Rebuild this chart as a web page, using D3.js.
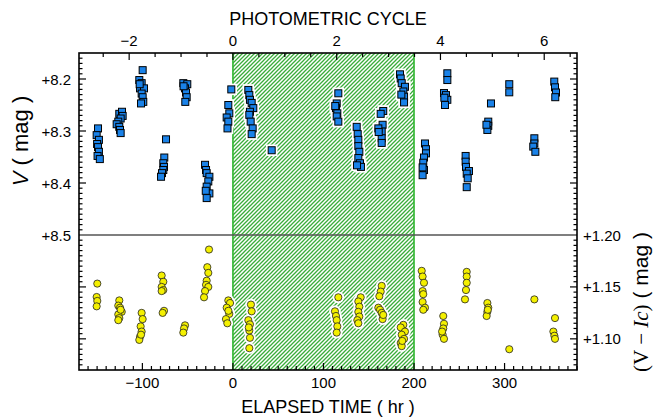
<!DOCTYPE html>
<html><head><meta charset="utf-8">
<script src="https://cdn.jsdelivr.net/npm/d3@7"></script>
<style>
html,body{margin:0;padding:0;background:#fff;}
svg text{font-family:"Liberation Sans",Arial,sans-serif;fill:#000;}
</style></head>
<body>
<svg id="chart" width="658" height="419"></svg>
<script>
// ---- data (elapsed time in hr, magnitudes) ----
const vTime = [-149,-150.5,-148,-150,-149,-148,-149.5,-147,
 -125.5,-122.5,-121.8,-124,-126.6,-128.4,-125.5,-124.7,-124,
 -99.7,-103.4,-100.8,-102.6,-98.2,-100.8,-99.7,-99,-101.5,-103,
 -73.9,-75.8,-76.9,-76.1,-76.9,-78.3,-79.4,
 -54.8,-50.4,-52.9,-51.8,-51.1,-52.6,-54.5,
 -30.8,-29.7,-29,-26,-27.2,-29,-26,-29,-30,
 -1.8,-5.1,-4,-6.9,-5.1,-6,
 17,18.1,18.8,20.7,22.5,18.8,18.1,19.6,21.8,20.7,
 42.8,
 116.4,114.6,113.8,115.3,114.6,116.4,113,
 136.7,137.8,138.5,138.5,139.6,138.5,140.3,141.4,137,
 166,163.2,165.3,164.3,160.6,164.3,164.3,161,
 184.5,185.3,186.4,190,188.2,189,189,186,
 212.1,213.2,213.2,211,210.2,211,209.5,209.5,
 236.8,236.8,233.1,235.3,236.8,234.2,233.5,
 285,
 282,282,281,280,
 305.2,305.2,
 257,257,257.4,260.7,258.2,259.3,258.2,
 332.9,332.9,331.7,334,
 354.9,355.7,356.8,356];
const vMag = [8.295,8.308,8.317,8.325,8.331,8.340,8.348,8.354,
 8.267,8.263,8.271,8.276,8.282,8.287,8.292,8.298,8.304,
 8.183,8.202,8.208,8.218,8.218,8.228,8.235,8.244,8.247,8.210,
 8.316,8.351,8.362,8.369,8.375,8.381,8.388,
 8.208,8.210,8.218,8.226,8.235,8.244,8.214,
 8.365,8.375,8.381,8.388,8.397,8.407,8.420,8.429,8.415,
 8.220,8.250,8.266,8.274,8.282,8.295,
 8.221,8.231,8.240,8.246,8.256,8.263,8.269,8.282,8.295,8.306,
 8.337,
 8.2275,8.247,8.256,8.266,8.272,8.282,8.252,
 8.292,8.306,8.317,8.329,8.340,8.352,8.362,8.369,8.366,
 8.2615,8.267,8.288,8.301,8.295,8.314,8.323,8.302,
 8.191,8.199,8.208,8.215,8.224,8.234,8.245,8.230,
 8.324,8.335,8.343,8.351,8.361,8.375,8.385,8.370,
 8.189,8.202,8.227,8.231,8.240,8.250,8.236,
 8.247,
 8.282,8.290,8.298,8.288,
 8.210,8.2256,
 8.348,8.359,8.369,8.377,8.382,8.391,8.408,
 8.314,8.324,8.330,8.340,
 8.205,8.216,8.226,8.235];

const ciTime = [-149.8,-150.5,-149.8,-150.5,
 -125.5,-126.6,-124.7,-122.8,-126.6,-125.5,-126.6,-124,
 -100.8,-99.7,-101.9,-100.8,-102.6,-103.4,-101.5,
 -78.7,-76.9,-78.7,-76.9,-78.7,-76.1,-77.6,
 -52.9,-54,-54.8,
 -26.4,-28.3,-27.2,-29,-29.7,-27.2,-30.8,-31.9,
 -5.1,-3.2,-6.9,-4,-7.7,-6.2,-5,
 19.9,20.7,17,18.8,18.1,18.8,18.1,17.5,
 116.4,112.7,113.8,114.6,115.3,114.6,
 141.1,138.5,139.6,138.5,139.6,137.4,138.5,
 164.3,163.2,161.7,160.6,162.5,164.3,165.3,166,
 188.2,185.3,190,186.4,189,185.3,186.4,187,
 208.5,209.5,211,209.5,210.2,209.5,212.1,210.2,
 232.3,233.1,232.3,231.6,233.1,231,
 258.2,258.2,258.2,257.4,256.3,
 281,282,281,280.2,281.5,
 305.2,332.9,
 355.7,353.9,355,355.7];
const ciMag = [1.1532,1.1403,1.1365,1.1313,
 1.137,1.132,1.130,1.126,1.1235,1.120,1.118,1.128,
 1.125,1.119,1.112,1.107,1.102,1.099,1.104,
 1.161,1.155,1.150,1.147,1.146,1.127,1.125,
 1.113,1.110,1.106,
 1.186,1.169,1.1635,1.156,1.152,1.150,1.146,1.140,
 1.137,1.1345,1.130,1.124,1.119,1.115,1.127,
 1.133,1.1265,1.118,1.114,1.108,1.101,1.091,1.111,
 1.140,1.1265,1.122,1.118,1.112,1.106,
 1.140,1.136,1.131,1.126,1.1215,1.118,1.115,
 1.151,1.1455,1.141,1.130,1.128,1.125,1.119,1.123,
 1.1135,1.111,1.107,1.104,1.100,1.096,1.093,1.098,
 1.1655,1.160,1.154,1.146,1.143,1.1355,1.130,1.128,
 1.122,1.1145,1.110,1.104,1.100,1.107,
 1.1645,1.160,1.154,1.147,1.138,
 1.1345,1.130,1.126,1.122,1.128,
 1.090,1.138,
 1.120,1.107,1.103,1.100];

const timeTicks = [-100, 0, 100, 200, 300];
const cycleTicks = [-2, 0, 2, 4, 6];
const vTicks = [8.2, 8.3, 8.4, 8.5];
const ciTicks = [1.20, 1.15, 1.10];
const period = 57.3;          // hr per photometric cycle
const shade = [0, 200];       // shaded interval, hr

// ---- layout ----
const L = 79, R = 577, T = 53, B = 370, MID = 235;
const svg = d3.select("#chart");
const x = d3.scaleLinear().domain([-170, 380]).range([L, R]);
const xc = d3.scaleLinear().domain([-170/period, 380/period]).range([L, R]);
const yV = d3.scaleLinear().domain([8.15, 8.5]).range([T, MID]);
const yC = d3.scaleLinear().domain([1.20, 1.07]).range([MID, B]);

// hatch pattern
const defs = svg.append("defs");
const pat = defs.append("pattern").attr("id","hatch").attr("patternUnits","userSpaceOnUse")
  .attr("width",4).attr("height",4);
pat.append("rect").attr("width",4).attr("height",4).attr("fill","#fff");
pat.append("path").attr("d","M-1,1 l2,-2 M0,4 l4,-4 M3,5 l2,-2")
  .attr("stroke","#3aac3a").attr("stroke-width",1.3);

svg.append("rect").attr("x",x(shade[0])).attr("y",T).attr("width",x(shade[1])-x(shade[0]))
  .attr("height",B-T).attr("fill","url(#hatch)");
shade.forEach(s => svg.append("line").attr("x1",x(s)).attr("x2",x(s)).attr("y1",T).attr("y2",B)
  .attr("stroke","#2fb52f").attr("stroke-width",1.6));

// divider line
svg.append("line").attr("x1",L).attr("x2",R).attr("y1",MID).attr("y2",MID)
  .attr("stroke","#555").attr("stroke-width",1.5);

// ---- points ----
const vPts = vTime.map((t,i)=>({t, m:vMag[i]}));
const cPts = ciTime.map((t,i)=>({t, m:ciMag[i]}));
const S = 7;
const g = svg.append("g");
g.selectAll("rect.vh").data(vPts).join("rect")
  .attr("x",d=>x(d.t)-S/2).attr("y",d=>yV(d.m)-S/2).attr("width",S).attr("height",S)
  .attr("fill","#fff").attr("stroke","#fff").attr("stroke-width",4.5);
g.selectAll("circle.ch").data(cPts).join("circle")
  .attr("cx",d=>x(d.t)).attr("cy",d=>yC(d.m)).attr("r",3.6)
  .attr("fill","#fff").attr("stroke","#fff").attr("stroke-width",4.5);
g.selectAll("rect.v").data(vPts).join("rect")
  .attr("x",d=>x(d.t)-S/2).attr("y",d=>yV(d.m)-S/2).attr("width",S).attr("height",S)
  .attr("fill","#1a82e8").attr("stroke","#000").attr("stroke-width",1);
g.selectAll("circle.c").data(cPts).join("circle")
  .attr("cx",d=>x(d.t)).attr("cy",d=>yC(d.m)).attr("r",3.6)
  .attr("fill","#f4f000").attr("stroke","#222").attr("stroke-width",0.8);

// ---- axes ----
const ax = svg.append("g").attr("stroke","#000").attr("stroke-width",1.2);
function tick(x1,y1,x2,y2){ax.append("line").attr("x1",x1).attr("y1",y1).attr("x2",x2).attr("y2",y2);}
// bottom: minor 10 hr, major 100 hr
d3.range(-160, 381, 10).forEach(t=>{
  const len = (t % 100 === 0) ? 7 : 4;
  tick(x(t), B, x(t), B-len);
});
// top: cycles, minor 0.5, major 2
d3.range(-2.5, 6.6, 0.5).forEach(c=>{
  if (xc(c) < L || xc(c) > R) return;
  const len = (Math.abs(c % 2) < 1e-9) ? 7 : 4;
  tick(xc(c), T, xc(c), T+len);
});
// left/right upper: V minor 0.01, major 0.1
d3.range(8.16, 8.5, 0.01).forEach(v=>{
  const major = Math.abs(v*10 - Math.round(v*10)) < 1e-6;
  const len = major ? 7 : 3.5;
  tick(L, yV(v), L+len, yV(v));
  tick(R, yV(v), R-len, yV(v));
});
// lower: V-Ic minor 0.005, major 0.05
d3.range(1.075, 1.2, 0.005).forEach(c=>{
  const major = Math.abs(c*20 - Math.round(c*20)) < 1e-6;
  const len = major ? 7 : 3.5;
  tick(L, yC(c), L+len, yC(c));
  tick(R, yC(c), R-len, yC(c));
});
// frame
svg.append("rect").attr("x",L).attr("y",T).attr("width",R-L).attr("height",B-T)
  .attr("fill","none").attr("stroke","#000").attr("stroke-width",1.6);

// tick labels
const fmtSigned = (v,d)=> (v<0? "\u2212" : "") + Math.abs(v).toFixed(d);
svg.selectAll("text.xb").data(timeTicks).join("text")
  .attr("x",d=>x(d)).attr("y",B+18).attr("text-anchor","middle").attr("font-size",15)
  .text(d=>fmtSigned(d,0));
svg.selectAll("text.xt").data(cycleTicks).join("text")
  .attr("x",d=>xc(d)).attr("y",T-7).attr("text-anchor","middle").attr("font-size",15)
  .text(d=>fmtSigned(d,0));
svg.selectAll("text.yl").data(vTicks).join("text")
  .attr("x",L-8).attr("y",d=>yV(d)+5.5).attr("text-anchor","end").attr("font-size",15)
  .text(d=>"+"+d.toFixed(1));
svg.selectAll("text.yr").data(ciTicks).join("text")
  .attr("x",R+6).attr("y",d=>yC(d)+5.5).attr("text-anchor","start").attr("font-size",15)
  .text(d=>"+"+d.toFixed(2));

// axis titles
svg.append("text").attr("x",(L+R)/2).attr("y",25).attr("text-anchor","middle")
  .attr("font-size",18).text("PHOTOMETRIC CYCLE");
svg.append("text").attr("x",(L+R)/2).attr("y",413).attr("text-anchor","middle")
  .attr("font-size",18).text("ELAPSED TIME ( hr )");
const yl = svg.append("text").attr("transform","translate(28,141) rotate(-90)")
  .attr("text-anchor","middle").attr("font-size",22);
yl.append("tspan").attr("font-style","italic").text("V");
yl.append("tspan").text(" ( mag )");
const yr = svg.append("text").attr("transform","translate(648,302) rotate(-90)")
  .attr("text-anchor","middle").attr("font-size",21);
yr.append("tspan").attr("font-family","Liberation Serif, serif").text("(V \u2212 ");
yr.append("tspan").attr("font-family","Liberation Serif, serif").attr("font-style","italic").text("Ic");
yr.append("tspan").attr("font-family","Liberation Serif, serif").text(")");
yr.append("tspan").text("  ( mag )");
</script>
</body></html>
